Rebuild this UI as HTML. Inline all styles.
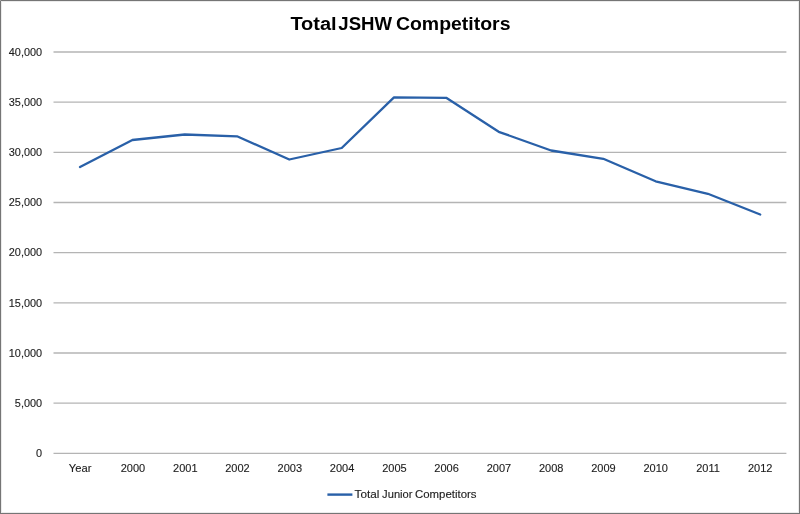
<!DOCTYPE html>
<html>
<head>
<meta charset="utf-8">
<title>Total JSHW Competitors</title>
<style>
html,body{margin:0;padding:0;background:#fff;}
body{width:800px;height:514px;overflow:hidden;}
svg{display:block;}
text{font-family:"Liberation Sans",sans-serif;}
.ax{font-size:10.9px;fill:#1c1c1c;stroke:#1c1c1c;stroke-width:0.12;}
.grid line{stroke:#b4b4b4;stroke-width:1.35;}
</style>
</head>
<body>
<svg width="800" height="514" viewBox="0 0 800 514">
<rect x="0" y="0" width="800" height="514" fill="#fff"/>
<g class="grid">
<line x1="53.5" y1="52.00" x2="786.4" y2="52.00"/>
<line x1="53.5" y1="102.17" x2="786.4" y2="102.17"/>
<line x1="53.5" y1="152.34" x2="786.4" y2="152.34"/>
<line x1="53.5" y1="202.51" x2="786.4" y2="202.51"/>
<line x1="53.5" y1="252.68" x2="786.4" y2="252.68"/>
<line x1="53.5" y1="302.85" x2="786.4" y2="302.85"/>
<line x1="53.5" y1="353.02" x2="786.4" y2="353.02"/>
<line x1="53.5" y1="403.19" x2="786.4" y2="403.19"/>
<line x1="53.5" y1="453.36" x2="786.4" y2="453.36"/>
</g>
<polyline fill="none" stroke="#2960a8" stroke-width="2.3" stroke-linejoin="round" stroke-linecap="round"
 points="80,167 132.4,140 184.7,134.5 237,136.3 289.3,159.5 341.7,148 394,97.3 446.2,97.8 498.7,131.8 551.1,150.5 603.3,158.8 655.6,181.3 707.9,193.8 760.2,214.5"/>
<text font-size="19.2" font-weight="bold" fill="#000" y="30.2"><tspan x="290.4" textLength="46.3" lengthAdjust="spacingAndGlyphs">Total</tspan> <tspan x="338.3" textLength="53.7" lengthAdjust="spacingAndGlyphs">JSHW</tspan> <tspan x="395.9" textLength="114.6" lengthAdjust="spacingAndGlyphs">Competitors</tspan></text>
<g class="ax" text-anchor="end">
<text x="42.1" y="55.6">40,000</text>
<text x="42.1" y="105.8">35,000</text>
<text x="42.1" y="156.0">30,000</text>
<text x="42.1" y="206.2">25,000</text>
<text x="42.1" y="256.4">20,000</text>
<text x="42.1" y="306.5">15,000</text>
<text x="42.1" y="356.7">10,000</text>
<text x="42.1" y="406.9">5,000</text>
<text x="42.1" y="457.1">0</text>
</g>
<g class="ax" text-anchor="middle" style="font-size:11px">
<text x="80.1" y="472.2" textLength="22.6" lengthAdjust="spacingAndGlyphs">Year</text>
<text x="133.0" y="472.2">2000</text>
<text x="185.3" y="472.2">2001</text>
<text x="237.5" y="472.2">2002</text>
<text x="289.8" y="472.2">2003</text>
<text x="342.1" y="472.2">2004</text>
<text x="394.4" y="472.2">2005</text>
<text x="446.6" y="472.2">2006</text>
<text x="498.9" y="472.2">2007</text>
<text x="551.2" y="472.2">2008</text>
<text x="603.4" y="472.2">2009</text>
<text x="655.7" y="472.2">2010</text>
<text x="708.0" y="472.2">2011</text>
<text x="760.2" y="472.2">2012</text>
</g>
<line x1="327.4" y1="494.6" x2="352.4" y2="494.6" stroke="#2960a8" stroke-width="2.4"/>
<text class="ax" y="498.2"><tspan x="354.6" textLength="24.8" lengthAdjust="spacingAndGlyphs">Total</tspan> <tspan x="382.1" textLength="30.4" lengthAdjust="spacingAndGlyphs">Junior</tspan> <tspan x="415.0" textLength="61.5" lengthAdjust="spacingAndGlyphs">Competitors</tspan></text>
<rect x="1.5" y="1.5" width="797" height="511" fill="none" stroke="#ebebeb" stroke-width="1"/>
<rect x="0.5" y="0.5" width="799" height="513" fill="none" stroke="#757575" stroke-width="1"/>
<rect x="0" y="0" width="1" height="1" fill="#a0a0a0"/>
</svg>
</body>
</html>
